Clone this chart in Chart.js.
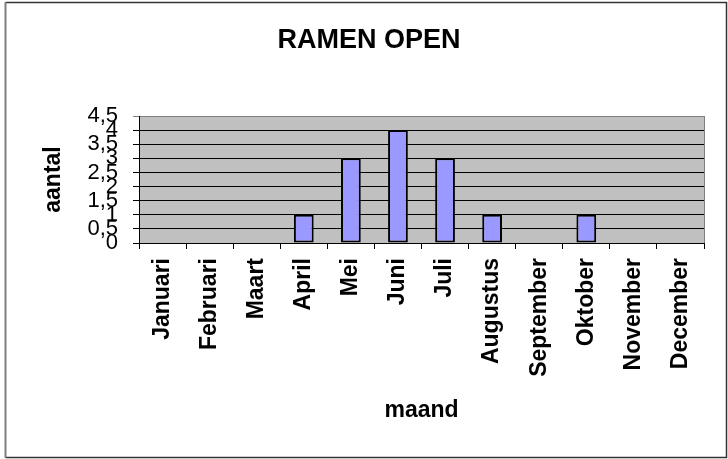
<!DOCTYPE html>
<html lang="nl">
<head>
  <meta charset="UTF-8">
  <title>RAMEN OPEN</title>
  <script src="https://cdn.jsdelivr.net/npm/chart.js"></script>
  <style>
    html, body { margin: 0; padding: 0; background: #fff; }
    #wrap { width: 728px; height: 459px; position: relative; }
  </style>
</head>
<body>
  <div id="wrap"><canvas id="chart"></canvas></div>

  <script>
    // data
    const months = ['Januari', 'Februari', 'Maart', 'April', 'Mei', 'Juni', 'Juli',
                    'Augustus', 'September', 'Oktober', 'November', 'December'];
    const counts = [0, 0, 0, 1, 3, 4, 3, 1, 0, 1, 0, 0];
    const yMax = 4.5;
    const yStep = 0.5;

    Chart.defaults.font.family = "'Liberation Sans', Arial, sans-serif";
    Chart.defaults.color = '#000';

    // grey plot area + frame round the whole chart
    const frame = {
      id: 'frame',
      beforeDraw(chart) {
        const { ctx, chartArea: a } = chart;
        ctx.save();
        ctx.fillStyle = '#c0c0c0';
        ctx.fillRect(a.left, a.top, a.right - a.left, a.bottom - a.top);
        ctx.restore();
      },
      afterDraw(chart) {
        const { ctx, chartArea: a } = chart;
        ctx.save();
        ctx.strokeStyle = '#808080';
        ctx.lineWidth = 1;
        ctx.beginPath();
        ctx.moveTo(a.right + 0.5, a.top);
        ctx.lineTo(a.right + 0.5, a.bottom);
        ctx.stroke();
        // outer border
        ctx.strokeStyle = '#333';
        ctx.lineWidth = 1.5;
        ctx.beginPath();
        ctx.moveTo(5.5, 2.5);
        ctx.lineTo(726.5, 2.5);
        ctx.lineTo(726.5, 457.5);
        ctx.lineTo(5.5, 457.5);
        ctx.stroke();
        ctx.strokeStyle = '#808080';
        ctx.lineWidth = 2;
        ctx.beginPath();
        ctx.moveTo(5.5, 2);
        ctx.lineTo(5.5, 458);
        ctx.stroke();
        ctx.restore();
      }
    };

    new Chart(document.getElementById('chart'), {
      type: 'bar',
      data: {
        labels: months,
        datasets: [{
          label: 'aantal',
          data: counts,
          backgroundColor: '#9999ff',
          borderColor: '#000',
          borderWidth: 2,
          borderSkipped: false,
          barPercentage: 0.42,
          categoryPercentage: 1
        }]
      },
      options: {
        responsive: true,
        maintainAspectRatio: false,
        animation: false,
        layout: { padding: { left: 34, right: 24, top: 0, bottom: 0 } },
        plugins: {
          legend: { display: false },
          tooltip: { enabled: false },
          title: {
            display: true,
            text: 'RAMEN OPEN',
            font: { size: 27, weight: 'bold' },
            padding: { top: 24, bottom: 59.6 }
          }
        },
        scales: {
          x: {
            grid: { drawOnChartArea: false, drawTicks: true, tickLength: 6, color: '#000', offset: true },
            border: { color: '#000', width: 1 },
            ticks: {
              font: { size: 23, weight: 'bold' },
              minRotation: 90, maxRotation: 90,
              autoSkip: false,
              padding: 9
            },
            title: {
              display: true,
              text: 'maand',
              font: { size: 23, weight: 'bold' },
              padding: { top: 0, bottom: 35 }
            },
            afterFit(scale) { scale.height = 216; }
          },
          y: {
            min: 0,
            max: yMax,
            grid: {
              color: c => (c.tick && c.tick.value === yMax) ? '#808080' : '#000',
              tickLength: 6
            },
            border: { color: '#000', width: 1 },
            ticks: {
              stepSize: yStep,
              autoSkip: false,
              font: { size: 22 },
              padding: 15,
              callback: v => String(v).replace('.', ',')
            },
            title: {
              display: true,
              text: 'aantal',
              font: { size: 23, weight: 'bold' },
              padding: { top: 6, bottom: 0 }
            },
            afterFit(scale) { scale.width = 105; }
          }
        }
      },
      plugins: [frame]
    });
  </script>
</body>
</html>
